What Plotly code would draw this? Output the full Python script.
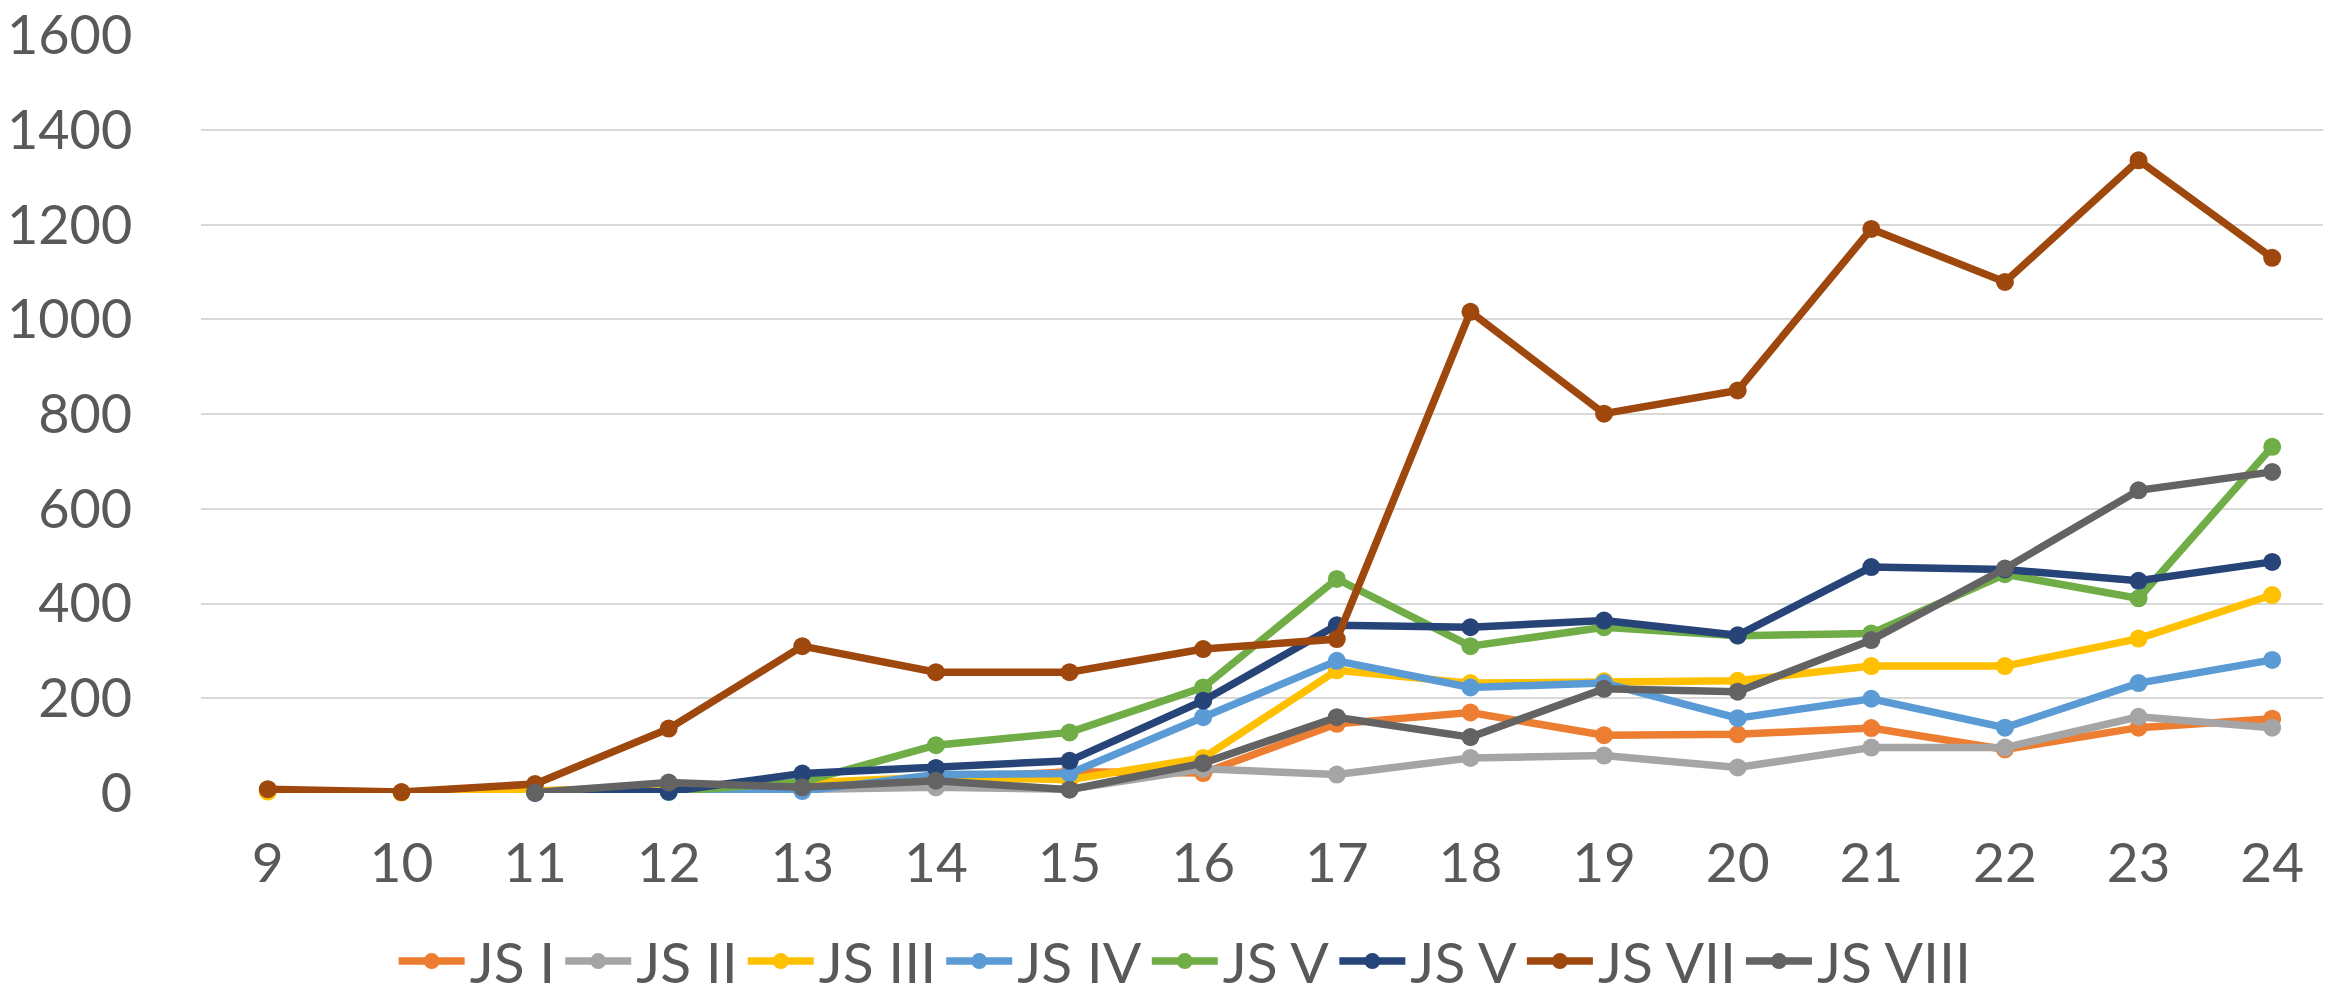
import plotly.graph_objects as go

categories = [str(v) for v in range(9, 25)]

js_i    = [None, None, None, 5, 12, 30, 45, 42, 146, 170, 122, 124, 137, 92, 138, 157]
js_ii   = [None, None, None, 3, 6, 12, 8, 51, 39, 74, 79, 54, 96, 96, 161, 138]
js_iii  = [3, 1, 5, 12, 21, 34, 28, 74, 259, 232, 236, 237, 268, 268, 326, 418]
js_iv   = [None, None, None, 2, 4, 39, 41, 160, 279, 223, 232, 158, 199, 138, 232, 281]
js_v_a  = [None, None, None, 3, 23, 101, 128, 223, 452, 310, 350, 332, 337, 462, 411, 731]
js_v_b  = [None, None, 0, 3, 41, 53, 68, 195, 354, 350, 364, 333, 477, 472, 448, 488]
js_vii  = [8, 2, 19, 136, 310, 255, 255, 304, 325, 1016, 801, 850, 1191, 1079, 1336, 1130]
js_viii = [None, None, 1, 22, 12, 26, 7, 63, 160, 118, 220, 214, 323, 474, 639, 678]

series_names = ["JS I", "JS II", "JS III", "JS IV", "JS V", "JS V", "JS VII", "JS VIII"]
series_values = [js_i, js_ii, js_iii, js_iv, js_v_a, js_v_b, js_vii, js_viii]
series_colors = ["#ED7D31", "#A5A5A5", "#FFC000", "#5B9BD5", "#70AD47", "#264478", "#9E480E", "#636363"]

y_ticks = list(range(0, 1601, 200))

FONT = "Lato, 'Open Sans', sans-serif"
TXT = "#595959"

fig = go.Figure()
for name, vals, col in zip(series_names, series_values, series_colors):
    fig.add_trace(go.Scatter(
        x=categories, y=vals, name=name, mode="lines+markers",
        line=dict(color=col, width=7.5),
        marker=dict(color=col, size=18),
        connectgaps=False,
        cliponaxis=False,
    ))

fig.update_layout(
    width=2331, height=994,
    margin=dict(l=193, r=0, t=27, b=209, autoexpand=False),
    paper_bgcolor="white", plot_bgcolor="white",
    font=dict(family=FONT, size=55, color=TXT),
    showlegend=True,
    legend=dict(
        orientation="h",
        xref="container", x=0.505, xanchor="center",
        yref="container", y=0.085, yanchor="top",
        font=dict(family=FONT, size=57, color=TXT),
        itemwidth=66, tracegroupgap=0,
        bgcolor="rgba(0,0,0,0)",
    ),
)

fig.update_xaxes(
    type="category", range=[-0.5, 15.5], automargin=False,
    showgrid=False, zeroline=False, showline=False,
    ticks="outside", ticklen=22, tickcolor="rgba(0,0,0,0)",
    tickfont=dict(family=FONT, size=55, color=TXT),
)
fig.update_yaxes(
    range=[0, 1600.5], tickvals=y_ticks, automargin=False,
    showgrid=True, gridcolor="#D9D9D9", gridwidth=2,
    zeroline=False, showline=False,
    ticks="outside", ticklen=57, tickcolor="rgba(0,0,0,0)",
    ticklabeloverflow="allow",
    tickfont=dict(family=FONT, size=54, color=TXT),
)

fig.write_html("out.html")
